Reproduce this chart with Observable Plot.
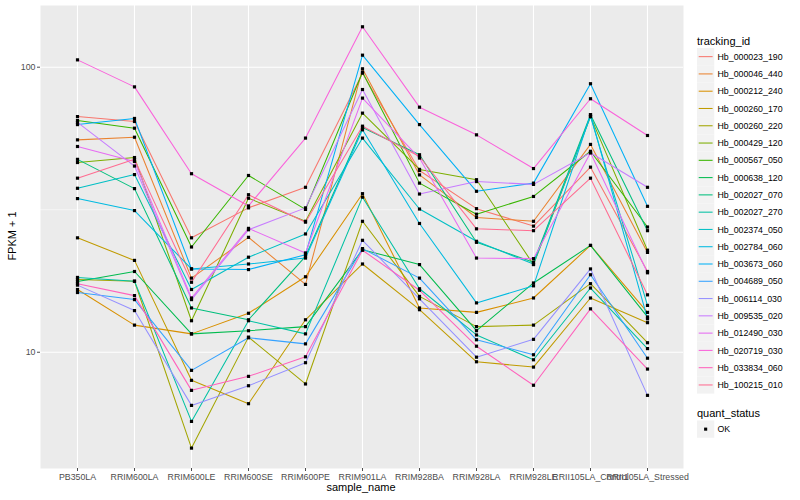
<!DOCTYPE html>
<html><head><meta charset="utf-8">
<script src="https://cdn.jsdelivr.net/npm/d3@7"></script>
<script src="https://cdn.jsdelivr.net/npm/@observablehq/plot@0.6"></script>
<style>
body{margin:0;background:#fff;font-family:"Liberation Sans",Arial,sans-serif;}
#wrap{position:relative;width:800px;height:500px;overflow:hidden;}
#chart{position:absolute;left:0;top:0;}
#legend{position:absolute;left:0;top:0;}
.lab{position:absolute;font-size:11px;color:#000;white-space:nowrap;}
</style></head><body>
<div id="wrap"><div id="chart"></div><svg id="legend" width="800" height="500"></svg>
<div class="lab" style="left:361px;top:481px;transform:translateX(-50%);">sample_name</div>
<div class="lab" style="left:12px;top:236px;transform:translate(-50%,-50%) rotate(-90deg);">FPKM + 1</div>
</div>
<script>
const samples = ["PB350LA","RRIM600LA","RRIM600LE","RRIM600SE","RRIM600PE","RRIM901LA","RRIM928BA","RRIM928LA","RRIM928LE","RRII105LA_Control","RRII105LA_Stressed"];
const ids = ["Hb_000023_190","Hb_000046_440","Hb_000212_240","Hb_000260_170","Hb_000260_220","Hb_000429_120","Hb_000567_050","Hb_000638_120","Hb_002027_070","Hb_002027_270","Hb_002374_050","Hb_002784_060","Hb_003673_060","Hb_004689_050","Hb_006114_030","Hb_009535_020","Hb_012490_030","Hb_020719_030","Hb_033834_060","Hb_100215_010"];
const colors = ["#F8766D","#EA8331","#D89000","#C09B00","#A3A500","#7CAE00","#39B600","#00BB4E","#00BF7D","#00C1A3","#00BFC4","#00BAE0","#00B0F6","#35A2FF","#9590FF","#C77CFF","#E76BF3","#FA62DB","#FF62BC","#FF6C91"];
const yTicks = [10, 100];
const yMinor = [31.62];
const statusLabels = ["OK"];

const Hb_000023_190 = [67.1, 64.5, 25.2, 32.1, 37.9, 95.3, 43.4, 31.9, 27.7, 44.6, 19.2];
const Hb_000046_440 = [55.6, 56.8, 18.2, 25.3, 17.3, 98.7, 41.9, 29.7, 28.8, 53.6, 22.4];
const Hb_000212_240 = [16.6, 12.45, 11.6, 13.7, 18.4, 36.0, 14.3, 13.8, 15.5, 23.7, 13.8];
const Hb_000260_170 = [25.2, 21.0, 7.97, 6.6, 13.0, 20.4, 14.1, 9.26, 8.87, 15.5, 12.7];
const Hb_000260_220 = [18.0, 17.75, 4.61, 11.3, 7.74, 28.8, 15.7, 12.3, 12.45, 17.4, 10.8];
const Hb_000429_120 = [46.3, 48.2, 12.9, 34.7, 28.8, 69.0, 43.8, 40.3, 20.3, 67.1, 22.8];
const Hb_000567_050 = [65.0, 61.1, 23.4, 41.7, 31.7, 96.0, 39.2, 30.5, 35.2, 50.7, 27.5];
const Hb_000638_120 = [17.7, 19.2, 11.6, 11.9, 12.3, 22.9, 20.3, 11.9, 17.5, 23.7, 13.3];
const Hb_002027_070 = [47.5, 37.5, 14.3, 13.0, 21.7, 61.4, 49.3, 24.3, 20.7, 68.1, 26.7];
const Hb_002027_270 = [18.3, 17.75, 5.72, 12.9, 11.6, 35.0, 16.7, 11.5, 9.41, 16.8, 10.3];
const Hb_002374_050 = [37.6, 42.0, 16.6, 21.55, 26.0, 56.4, 31.8, 24.5, 20.4, 67.1, 14.6];
const Hb_002784_060 = [34.6, 31.4, 19.6, 20.4, 21.4, 60.3, 28.3, 14.9, 17.1, 68.1, 13.1];
const Hb_003673_060 = [62.9, 66.1, 19.6, 19.5, 22.0, 110.2, 62.9, 36.7, 39.2, 87.5, 32.5];
const Hb_004689_050 = [16.2, 15.3, 8.64, 11.24, 10.7, 23.1, 18.2, 11.06, 9.8, 18.7, 9.53];
const Hb_006114_030 = [17.2, 14.0, 6.51, 7.63, 9.19, 24.7, 15.4, 9.61, 11.1, 19.6, 7.06];
const Hb_009535_020 = [64.0, 45.0, 15.3, 26.9, 32.1, 83.5, 35.9, 39.7, 38.8, 50.1, 37.9];
const Hb_012490_030 = [52.7, 46.7, 15.5, 27.2, 22.3, 77.9, 48.0, 21.4, 21.3, 50.1, 19.0];
const Hb_020719_030 = [106.1, 85.3, 42.3, 32.6, 56.4, 138.6, 72.4, 57.9, 44.1, 77.5, 57.6];
const Hb_033834_060 = [17.4, 15.8, 7.35, 8.23, 9.64, 22.8, 16.5, 10.5, 7.66, 14.2, 8.73];
const Hb_100215_010 = [40.8, 47.5, 17.6, 35.7, 28.6, 62.1, 48.6, 27.1, 26.7, 40.8, 15.9];

const seriesValues = [Hb_000023_190, Hb_000046_440, Hb_000212_240, Hb_000260_170, Hb_000260_220, Hb_000429_120, Hb_000567_050, Hb_000638_120, Hb_002027_070, Hb_002027_270, Hb_002374_050, Hb_002784_060, Hb_003673_060, Hb_004689_050, Hb_006114_030, Hb_009535_020, Hb_012490_030, Hb_020719_030, Hb_033834_060, Hb_100215_010];

const data = [];
ids.forEach((id, i) => samples.forEach((s, j) => data.push({id, sample: s, value: seriesValues[i][j], status: "OK"})));

const chart = Plot.plot({
  width: 690, height: 500,
  marginLeft: 40, marginRight: 7, marginTop: 5, marginBottom: 32,
  style: {fontFamily: "Liberation Sans, Arial, sans-serif", fontSize: "8.8px", background: "white", overflow: "visible"},
  x: {type: "point", domain: samples, padding: 0.6, label: null},
  y: {type: "log", domain: [3.91, 164.6], label: null},
  color: {domain: ids, range: colors},
  marks: [
    Plot.frame({fill: "#EBEBEB", stroke: null}),
    Plot.ruleY(yMinor, {stroke: "white", strokeWidth: 0.55}),
    Plot.ruleY(yTicks, {stroke: "white", strokeWidth: 1.1}),
    Plot.ruleX(samples, {stroke: "white", strokeWidth: 1.1}),
    Plot.line(data, {x: "sample", y: "value", z: "id", stroke: "id", strokeWidth: 1.05}),
    Plot.dot(data, {x: "sample", y: "value", symbol: "square", fill: "black", stroke: null, r: 1.8}),
    Plot.axisY({ticks: yTicks, tickFormat: d => String(d), tickSize: 3, tickPadding: 2, color: "#4D4D4D", label: null}),
    Plot.axisX({tickSize: 3, tickPadding: 2, color: "#4D4D4D", label: null})
  ]
});
document.getElementById("chart").appendChild(chart);

// legend (right side)
const lg = d3.select("#legend");
const lx = 697, step = 17.28, y0 = 48;
lg.append("text").attr("x", lx).attr("y", 44.5).attr("font-size", 11).attr("font-family", "Liberation Sans, Arial, sans-serif").text("tracking_id");
ids.forEach((id, i) => {
  const y = y0 + i * step;
  lg.append("rect").attr("x", lx).attr("y", y).attr("width", 17.28).attr("height", 17.28).attr("fill", "#F2F2F2");
  lg.append("line").attr("x1", lx + 1.7).attr("x2", lx + 15.6).attr("y1", y + 8.64).attr("y2", y + 8.64).attr("stroke", colors[i]).attr("stroke-width", 1.05);
  lg.append("text").attr("x", lx + 20.5).attr("y", y + 11.8).attr("font-size", 8.8).attr("font-family", "Liberation Sans, Arial, sans-serif").text(id);
});
lg.append("text").attr("x", lx).attr("y", 416.5).attr("font-size", 11).attr("font-family", "Liberation Sans, Arial, sans-serif").text("quant_status");
statusLabels.forEach((s, i) => {
  const y = 420.5 + i * step;
  lg.append("rect").attr("x", lx).attr("y", y).attr("width", 17.28).attr("height", 17.28).attr("fill", "#F2F2F2");
  lg.append("rect").attr("x", lx + 7.1).attr("y", y + 7.1).attr("width", 3.1).attr("height", 3.1).attr("fill", "black");
  lg.append("text").attr("x", lx + 20.5).attr("y", y + 11.8).attr("font-size", 8.8).attr("font-family", "Liberation Sans, Arial, sans-serif").text(s);
});
</script>
</body></html>
